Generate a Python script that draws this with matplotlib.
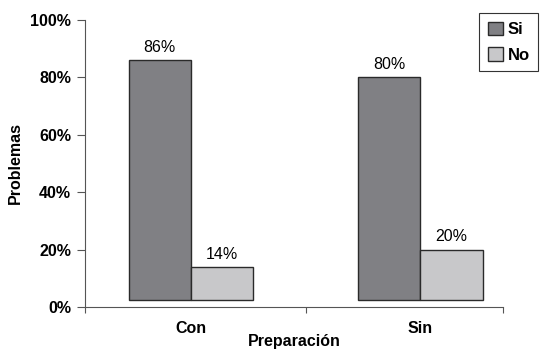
import numpy as np
import matplotlib
matplotlib.use('Agg')
import matplotlib.pyplot as plt
from matplotlib.ticker import PercentFormatter

plt.rcParams['font.family'] = ['Liberation Sans', 'DejaVu Sans']

categories = ["Con", "Sin"]
si_vals    = [86, 80]
no_vals    = [14, 20]
series     = ["Si", "No"]

BASE  = 2.5   # bars sit slightly above the axis line, as in the original
WIDTH = 0.272
C_SI  = "#808084"
C_NO  = "#c8c8ca"
EDGE  = "#2a2a2a"
XLIM  = (-0.463, 1.362)

fig = plt.figure(figsize=(5.41, 3.5), dpi=100)
ax = fig.add_axes([0.157, 0.123, 0.773, 0.820])

x = np.arange(len(categories))
b1 = ax.bar(x - WIDTH / 2, np.array(si_vals) - BASE, WIDTH, bottom=BASE,
            color=C_SI, edgecolor=EDGE, linewidth=1.0, label=series[0])
b2 = ax.bar(x + WIDTH / 2, np.array(no_vals) - BASE, WIDTH, bottom=BASE,
            color=C_NO, edgecolor=EDGE, linewidth=1.0, label=series[1])

for bars, vals in [(b1, si_vals), (b2, no_vals)]:
    for rect, v in zip(bars, vals):
        ax.text(rect.get_x() + rect.get_width() / 2, v + 1.8, f"{v}%",
                ha="center", va="bottom", fontsize=11.5)

ax.set_xlim(*XLIM)
ax.set_ylim(0, 100)
ax.set_yticks(range(0, 101, 20))
ax.yaxis.set_major_formatter(PercentFormatter(decimals=0))
ax.set_xticks([XLIM[0], 0.5, XLIM[1]])
ax.set_xticklabels([])
ax.set_xticks(x, minor=True)
ax.set_xticklabels(categories, minor=True, fontweight="bold", fontsize=11.5)
ax.tick_params(axis="x", which="minor", length=0, pad=10)
ax.tick_params(axis="x", which="major", length=4, width=0.8, color="#555555")
ax.tick_params(axis="y", length=6, width=0.8, color="#555555", pad=4)
for lbl in ax.get_yticklabels():
    lbl.set_fontweight("bold")
    lbl.set_fontsize(11.5)

for s in ["top", "right"]:
    ax.spines[s].set_visible(False)
for s in ["left", "bottom"]:
    ax.spines[s].set_color("#555555")
    ax.spines[s].set_linewidth(0.8)

ax.set_ylabel("Problemas", fontweight="bold", fontsize=11.5, labelpad=5)
ax.set_xlabel("Preparación", fontweight="bold", fontsize=11.5, labelpad=-1)

leg = fig.legend(loc="upper left", bbox_to_anchor=(0.886, 0.962),
                 prop={"weight": "bold", "size": 12},
                 handlelength=0.9, handleheight=0.9, handletextpad=0.3,
                 labelspacing=0.6, borderpad=0.5, borderaxespad=0,
                 fancybox=False, edgecolor="#333333", framealpha=1)
leg.get_frame().set_linewidth(0.8)
for p in leg.get_patches():
    p.set_edgecolor(EDGE)

fig.savefig("out.png", dpi=100)
